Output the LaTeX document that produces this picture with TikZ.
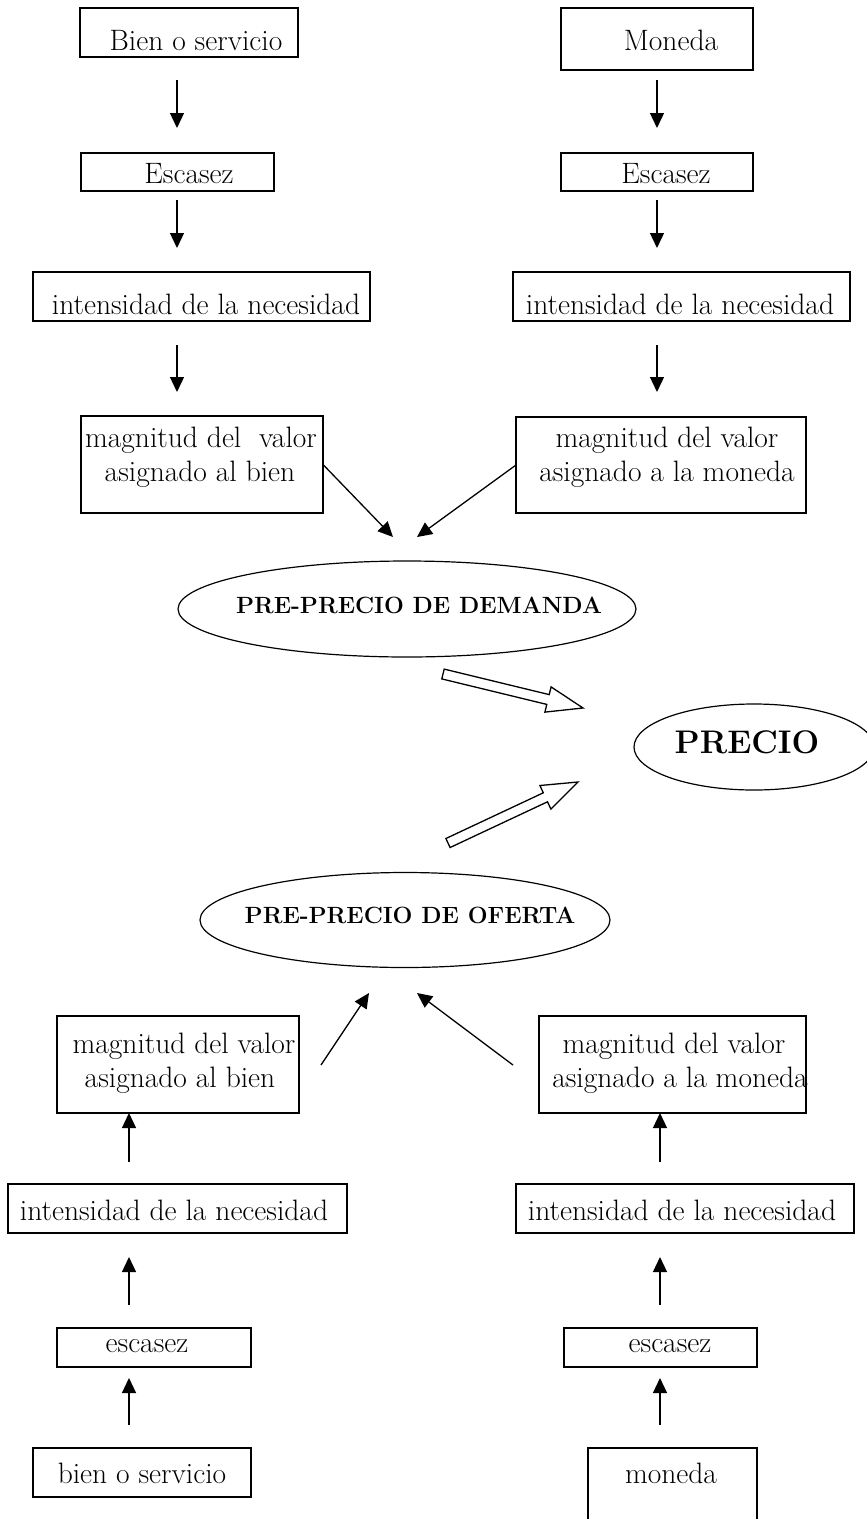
\documentclass[tikz,border=0pt]{standalone}
\usetikzlibrary{arrows.meta,shapes.geometric}
\begin{document}
\begin{tikzpicture}[x=1pt,y=-1pt,
  box/.style={draw, line width=1.3pt, inner sep=0pt, outer sep=0pt},
  txt/.style={font=\fontsize{29.5}{34}\selectfont, inner sep=0pt, anchor=base},
  btxt/.style={font=\bfseries\fontsize{23.5}{28}\selectfont, inner sep=0pt, anchor=base},
  ptxt/.style={font=\bfseries\fontsize{32.7}{36}\selectfont, inner sep=0pt, anchor=base},
  oval/.style={draw, ellipse, line width=1.2pt, inner sep=0pt, outer sep=0pt},
  arr/.style={line width=1.3pt, -{Triangle[length=15pt,width=14pt]}},
  hollow/.style={draw, line width=1.3pt, fill=white, line join=miter}]
\useasboundingbox (0,0) rectangle (867,1519);
% columns for vertical arrows
\coordinate (cL) at (177,0);
\coordinate (cR) at (657,0);
\coordinate (cBL) at (129,0);
\coordinate (cBR) at (660,0);
% ---- top left
\node[box, minimum width=218pt, minimum height=49pt] (b1) at (189,32.5) {};
\node[txt] (tb1) at (196,50) {Bien o servicio};
\node[box, minimum width=193pt, minimum height=38pt] (e1) at (177.5,172) {};
\node[txt] (te1) at (189,183) {Escasez};
\node[box, minimum width=337pt, minimum height=49pt] (i1) at (201.5,296.5) {};
\node[txt] (ti1) at (206,314) {intensidad de la necesidad};
\node[box, minimum width=242pt, minimum height=97pt] (m1) at (202,464.5) {};
\node[txt] (tm1a) at (201,447) {magnitud del~ valor};
\node[txt] (tm1b) at (200,481) {asignado al bien};
% ---- top right
\node[box, minimum width=192pt, minimum height=62pt] (b2) at (657,39) {};
\node[txt] (tb2) at (671,50) {Moneda};
\node[box, minimum width=192pt, minimum height=38pt] (e2) at (657,172) {};
\node[txt] (te2) at (666,183) {Escasez};
\node[box, minimum width=337pt, minimum height=49pt] (i2) at (681.5,296.5) {};
\node[txt] (ti2) at (680,314) {intensidad de la necesidad};
\node[box, minimum width=290pt, minimum height=96pt] (m2) at (661,465) {};
\node[txt] (tm2a) at (667,447) {magnitud del valor};
\node[txt] (tm2b) at (667,481) {asignado a la moneda};
% ---- ellipses
\node[oval, minimum width=458pt, minimum height=96pt] (dem) at (407,609) {};
\node[btxt] (tdem) at (419,613) {PRE-PRECIO DE DEMANDA};
\node[oval, minimum width=240pt, minimum height=86pt] (pre) at (754,747) {};
\node[ptxt] (tpre) at (747,753) {PRECIO};
\node[oval, minimum width=410pt, minimum height=95pt] (ofe) at (405,920) {};
\node[btxt] (tofe) at (410,923) {PRE-PRECIO DE OFERTA};
% ---- bottom
\node[box, minimum width=242pt, minimum height=97pt] (m3) at (178,1064.5) {};
\node[txt] (tm3a) at (184,1053) {magnitud del valor};
\node[txt] (tm3b) at (180,1087) {asignado al bien};
\node[box, minimum width=267pt, minimum height=97pt] (m4) at (672.5,1064.5) {};
\node[txt] (tm4a) at (674,1053) {magnitud del valor};
\node[txt] (tm4b) at (680,1087) {asignado a la moneda};
\node[box, minimum width=339pt, minimum height=49pt] (i3) at (177.5,1208.5) {};
\node[txt] (ti3) at (174,1220) {intensidad de la necesidad};
\node[box, minimum width=338pt, minimum height=49pt] (i4) at (685,1208.5) {};
\node[txt] (ti4) at (682,1220) {intensidad de la necesidad};
\node[box, minimum width=194pt, minimum height=39pt] (e3) at (154,1347.5) {};
\node[txt] (te3) at (147,1352) {escasez};
\node[box, minimum width=193pt, minimum height=39pt] (e4) at (660.5,1347.5) {};
\node[txt] (te4) at (670,1352) {escasez};
\node[box, minimum width=218pt, minimum height=49pt] (s3) at (142,1472.5) {};
\node[txt] (ts3) at (142,1483) {bien o servicio};
\node[box, minimum width=169pt, minimum height=80pt] (s4) at (672.5,1488) {};
\node[txt] (ts4) at (671,1483) {moneda};
% ---- vertical arrows (top, downward)
\draw[arr, shorten <=23pt, shorten >=25pt] (b1.south -| cL) -- (e1.north -| cL);
\draw[arr, shorten <=9pt, shorten >=24pt] (e1.south -| cL) -- (i1.north -| cL);
\draw[arr, shorten <=24pt, shorten >=24pt] (i1.south -| cL) -- (m1.north -| cL);
\draw[arr, shorten <=10pt, shorten >=25pt] (b2.south -| cR) -- (e2.north -| cR);
\draw[arr, shorten <=9pt, shorten >=24pt] (e2.south -| cR) -- (i2.north -| cR);
\draw[arr, shorten <=24pt, shorten >=25pt] (i2.south -| cR) -- (m2.north -| cR);
% ---- vertical arrows (bottom, upward)
\draw[arr, shorten <=23pt, shorten >=11pt] (s3.north -| cBL) -- (e3.south -| cBL);
\draw[arr, shorten <=23pt, shorten >=24pt] (e3.north -| cBL) -- (i3.south -| cBL);
\draw[arr, shorten <=22pt] (i3.north -| cBL) -- (m3.south -| cBL);
\draw[arr, shorten <=23pt, shorten >=11pt] (s4.north -| cBR) -- (e4.south -| cBR);
\draw[arr, shorten <=23pt, shorten >=24pt] (e4.north -| cBR) -- (i4.south -| cBR);
\draw[arr, shorten <=22pt] (i4.north -| cBR) -- (m4.south -| cBR);
% ---- diagonal arrows
\coordinate (d1) at (393,537);
\coordinate (d2) at (417,537);
\draw[arr] (m1.east) -- (d1);
\draw[arr] (m2.west) -- (d2);
\coordinate (u1a) at (321,1065);
\coordinate (u1b) at (369,993);
\coordinate (u2a) at (513,1065);
\coordinate (u2b) at (417,993);
\draw[arr] (u1a) -- (u1b);
\draw[arr] (u2a) -- (u2b);
% ---- hollow block arrows
\draw[hollow] (444.2,669.1) -- (549.2,694.6) -- (551.1,686.9) -- (583,708)
  -- (544.9,712.1) -- (546.8,704.4) -- (441.8,678.9) -- cycle;
\draw[hollow] (445.9,838.5) -- (543.3,792.8) -- (539.9,785.5) -- (578,782)
  -- (550.9,809.1) -- (547.5,801.8) -- (450.1,847.5) -- cycle;
\end{tikzpicture}
\end{document}
